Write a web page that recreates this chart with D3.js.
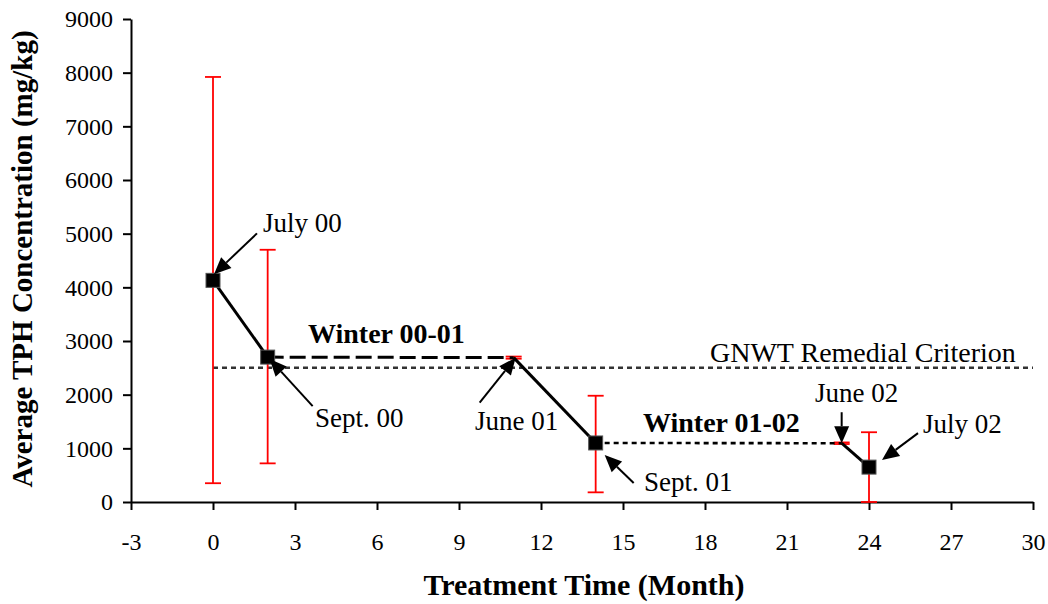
<!DOCTYPE html>
<html>
<head>
<meta charset="utf-8">
<script src="https://cdn.jsdelivr.net/npm/d3@7"></script>
<style>
  body { margin: 0; background: #fff; }
  svg { display: block; }
</style>
</head>
<body>
<div id="canvas"></div>
<script>
// data
const months = [0, 2, 11, 14, 23, 24];
const tph = [4130, 2700, 2690, 1100, 1095, 650];
const errLow = [350, 720, 2670, 180, 1080, 0];
const errHigh = [7920, 4700, 2710, 1980, 1110, 1300];
const hasMarker = [true, true, false, true, false, true];
// line style between consecutive points
const segStyle = ["solid", "dashed", "solid", "dotted", "solid"];
const criterion = 2500;
const criterionFrom = 0, criterionTo = 30;
const xTicks = [-3, 0, 3, 6, 9, 12, 15, 18, 21, 24, 27, 30];
const yTicks = [0, 1000, 2000, 3000, 4000, 5000, 6000, 7000, 8000, 9000];
const pointLabels = ["July 00", "Sept. 00", "June 01", "Sept. 01", "June 02", "July 02"];

const width = 1048, height = 604;
const serif = '"Liberation Serif", "Times New Roman", Times, serif';

const svg = d3.select("#canvas")
    .append("svg")
    .attr("width", width)
    .attr("height", height);

const x = d3.scaleLinear().domain([-3, 30]).range([131, 1033]);
const y = d3.scaleLinear().domain([0, 9000]).range([502, 19]);

// axes
const xAxis = svg.append("g")
    .attr("transform", `translate(0,${y(0)})`)
    .call(d3.axisBottom(x).tickValues(xTicks).tickSize(8).tickSizeOuter(0).tickFormat(d => String(d)));
xAxis.selectAll("text")
    .attr("y", 48).attr("dy", 0)
    .style("font-size", "24px").style("fill", "#000");

const yAxis = svg.append("g")
    .attr("transform", `translate(${x(-3)},0)`)
    .call(d3.axisLeft(y).tickValues(yTicks).tickSize(8).tickSizeOuter(0).tickFormat(d => String(d)));
yAxis.selectAll("text")
    .attr("x", -18)
    .style("font-size", "24px").style("fill", "#000");

svg.selectAll(".domain, .tick line").attr("stroke", "#000").attr("stroke-width", 2);

// axis titles
svg.append("text")
    .attr("x", 584).attr("y", 595)
    .attr("text-anchor", "middle")
    .style("font-size", "30px").style("font-weight", "bold")
    .text("Treatment Time (Month)");

svg.append("text")
    .attr("transform", "translate(32,259) rotate(-90)")
    .attr("text-anchor", "middle")
    .style("font-size", "29px").style("font-weight", "bold")
    .text("Average TPH Concentration (mg/kg)");

// remedial criterion
svg.append("line")
    .attr("x1", x(criterionFrom)).attr("x2", x(criterionTo))
    .attr("y1", y(criterion)).attr("y2", y(criterion))
    .attr("stroke", "#333").attr("stroke-width", 2.5)
    .attr("stroke-dasharray", "5,4");

// error bars
const pts = months.map((m, i) => ({m: m, v: tph[i], lo: errLow[i], hi: errHigh[i], mk: hasMarker[i]}));
const eb = svg.append("g").attr("stroke", "#ff0000").attr("stroke-width", 1.8);
eb.selectAll(".ebv").data(pts).join("line")
    .attr("x1", d => x(d.m)).attr("x2", d => x(d.m))
    .attr("y1", d => y(d.lo)).attr("y2", d => y(d.hi));
eb.selectAll(".ebt").data(pts).join("line")
    .attr("x1", d => x(d.m) - 8).attr("x2", d => x(d.m) + 8)
    .attr("y1", d => y(d.hi)).attr("y2", d => y(d.hi));
eb.selectAll(".ebb").data(pts).join("line")
    .attr("x1", d => x(d.m) - 8).attr("x2", d => x(d.m) + 8)
    .attr("y1", d => y(d.lo)).attr("y2", d => y(d.lo));

// line segments
const segs = segStyle.map((s, i) => ({a: pts[i], b: pts[i + 1], s: s}));
svg.append("g").selectAll("line").data(segs).join("line")
    .attr("x1", d => x(d.a.m)).attr("y1", d => y(d.a.v))
    .attr("x2", d => x(d.b.m)).attr("y2", d => y(d.b.v))
    .attr("stroke", "#000")
    .attr("stroke-width", d => d.s === "dotted" ? 2.6 : 3)
    .attr("stroke-dasharray", d => d.s === "dashed" ? "16,6" : d.s === "dotted" ? "5,4" : null);

// markers
svg.append("g").selectAll("rect").data(pts.filter(d => d.mk)).join("rect")
    .attr("x", d => x(d.m) - 7).attr("y", d => y(d.v) - 7)
    .attr("width", 14).attr("height", 14)
    .attr("fill", "#000").attr("stroke", "#555").attr("stroke-width", 1);

// annotations: arrow tip offset from the point, tail offset from the tip, label anchor
const annot = [
    {tip: [1, -6], tail: [43, -41], lx: 263, ly: 232},
    {tip: [2, 2], tail: [43, 47], lx: 315, ly: 427},
    {tip: [2, 0], tail: [-36, 45], lx: 475, ly: 430},
    {tip: [9, 12], tail: [29, 28], lx: 644, ly: 491},
    {tip: [0, 0], tail: [0, -31], lx: 815, ly: 402},
    {tip: [13, -7], tail: [36, -27], lx: 923, ly: 433}
];

const ag = svg.append("g");
annot.forEach((a, i) => {
    const tx = x(pts[i].m) + a.tip[0], ty = y(pts[i].v) + a.tip[1];
    const sx = tx + a.tail[0], sy = ty + a.tail[1];
    const len = Math.hypot(sx - tx, sy - ty);
    const ux = (sx - tx) / len, uy = (sy - ty) / len;
    const hl = 17, hw = 7.5;
    const bx = tx + ux * hl, by = ty + uy * hl;
    ag.append("line")
        .attr("x1", sx).attr("y1", sy).attr("x2", bx).attr("y2", by)
        .attr("stroke", "#000").attr("stroke-width", 2);
    ag.append("path")
        .attr("d", `M${tx},${ty}L${bx - uy * hw},${by + ux * hw}L${bx + uy * hw},${by - ux * hw}Z`)
        .attr("fill", "#000");
    ag.append("text")
        .attr("x", a.lx).attr("y", a.ly)
        .style("font-size", "27px")
        .text(pointLabels[i]);
});

// other labels
svg.append("text").attr("x", 308).attr("y", 343)
    .style("font-size", "28px").style("font-weight", "bold").text("Winter 00-01");
svg.append("text").attr("x", 643).attr("y", 432)
    .style("font-size", "28px").style("font-weight", "bold").text("Winter 01-02");
svg.append("text").attr("x", 710).attr("y", 362)
    .style("font-size", "28px").text("GNWT Remedial Criterion");

svg.selectAll("text").style("font-family", serif);
</script>
</body>
</html>
